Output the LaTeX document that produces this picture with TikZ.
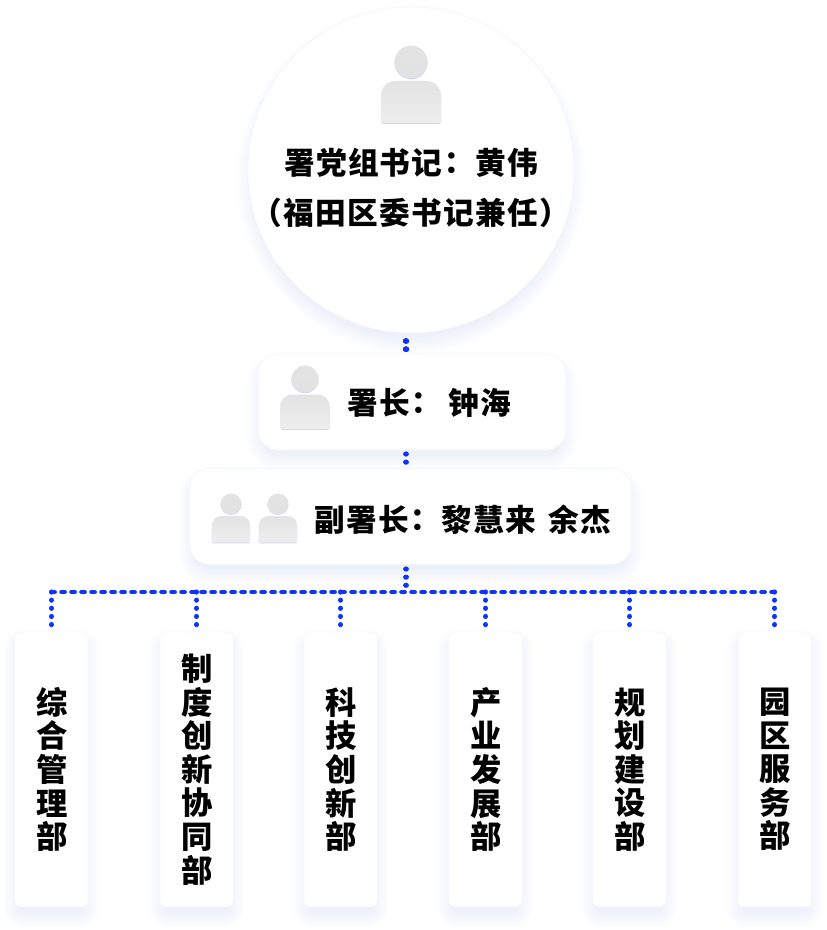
\documentclass[tikz,border=0pt]{standalone}
\usepackage{fontspec}
\usepackage{xcolor}
\usetikzlibrary{backgrounds}
\newfontfamily\cjk[LetterSpace=4.3]{Noto Sans CJK SC}
\newfontfamily\cjktc[LetterSpace=4.3]{Noto Sans CJK TC}
\definecolor{linkblue}{HTML}{0F34F8}
\definecolor{shadowblue}{HTML}{B4C0EA}
\definecolor{edgeblue}{HTML}{F3F5FC}
\definecolor{icontop}{HTML}{E3E3E3}
\definecolor{iconbottom}{HTML}{EEEEEE}
\definecolor{iconedge}{HTML}{CDD4EA}
\newcommand{\cnt}{{\kern-4.5pt\cjktc ：\kern6pt}}
\newcommand{\softshadow}[2]{
  \foreach \w in {-7,-5,...,11}
    \fill[shadowblue,opacity=.028,rounded corners=#2*.75pt+\w*.75pt]
      ([shift={(-\w,\w+9)}]#1.south west) rectangle ([shift={(\w,-\w+9)}]#1.north east);
}

\begin{document}
\begin{tikzpicture}[x=.75pt,y=-.75pt,
   card/.style={draw=edgeblue,line width=.4pt,fill=white,inner sep=0pt,outer sep=0pt},
   wide/.style={card,rounded corners=15pt,minimum height=72pt},
   dept/.style={card,rounded corners=4.5pt,minimum width=55pt,minimum height=206pt,align=center,
     font=\cjk\bfseries\fontsize{23.5}{25.2}\selectfont},
   label/.style={font=\cjk\bfseries\fontsize{23}{37.5}\selectfont,inner sep=0pt},
   vlink/.style={linkblue,line width=3.9pt,line cap=round,dash pattern=on .01pt off 6.1pt},
   hlink/.style={linkblue,line width=3.4pt,line cap=round,dash pattern=on 2.4pt off 5.1pt},
   person/.pic={
     \fill[iconedge] (-30,34) -- (-30,59) .. controls (-30,61) and (-29,62) .. (-27,62) -- (27,62) .. controls (29,62) and (30,61) .. (30,59) -- (30,34) -- cycle;
     \fill[iconedge] (0,.8) circle (16.5);
     \shade[top color=icontop,bottom color=iconbottom] (-30,34) .. controls (-30,25) and (-24,19) .. (-15,19) -- (15,19) .. controls (24,19) and (30,25) .. (30,34) -- (30,58) .. controls (30,60) and (29,61) .. (27,61) -- (-27,61) .. controls (-29,61) and (-30,60) .. (-30,58) -- cycle;
     \shade[top color=icontop,bottom color=iconbottom!95!black] (0,0) circle (16.5);
   }]
   \useasboundingbox (0,0) rectangle (826,930);

   \node[card,circle,minimum size=244.5pt] (chief) at (411,170) {};
   \node[wide,minimum width=231pt] (head) at (412,402) {};
   \node[wide,minimum width=331pt] (deputy) at (410.5,516.5) {};

   \foreach \i/\x/\name in {
     1/51.5/{\hspace{1pt}综\\\hspace{1pt}合\\\hspace{1pt}管\\\hspace{1pt}理\\\hspace{1pt}部},
     2/196.5/{\hspace{1pt}制\\\hspace{1pt}度\\\hspace{1pt}创\\\hspace{1pt}新\\\hspace{1pt}协\\\hspace{1pt}同\\\hspace{1pt}部},
     3/340.5/{\hspace{1pt}科\\\hspace{1pt}技\\\hspace{1pt}创\\\hspace{1pt}新\\\hspace{1pt}部},
     4/485.5/{\hspace{1pt}产\\\hspace{1pt}业\\\hspace{1pt}发\\\hspace{1pt}展\\\hspace{1pt}部},
     5/629.5/{\hspace{1pt}规\\\hspace{1pt}划\\\hspace{1pt}建\\\hspace{1pt}设\\\hspace{1pt}部},
     6/774.5/{\hspace{1pt}园\\\hspace{1pt}区\\\hspace{1pt}服\\\hspace{1pt}务\\\hspace{1pt}部}}
     \node[dept] (dept\i) at (\x,769.5) {\name};

   \coordinate (bus) at (406,592);
   \coordinate (chiefdrop) at (406,333);
   \coordinate (headtop) at (406,354);
   \coordinate (headdrop) at (406,450);
   \coordinate (deputytop) at (406,468);
   \coordinate (deputydrop) at (406,565);

   \begin{scope}[on background layer]
     \foreach \w in {-7,-5,...,11}
       \fill[shadowblue,opacity=.028] ([yshift=-6.75pt]chief.center) circle (163+\w);
     \softshadow{head}{20}
     \softshadow{deputy}{20}
     \foreach \i in {1,...,6}
       \softshadow{dept\i}{6}
     \draw[vlink] ([yshift=-6pt]chiefdrop) -- (headtop);
     \draw[vlink] ([yshift=-3pt]headdrop) -- (deputytop);
     \draw[vlink] ([yshift=-3pt]deputydrop) -- (bus);
     \draw[hlink] (dept1.north |- bus) -- (dept6.north |- bus);
     \foreach \i in {1,...,6}
       \draw[vlink] (dept\i.north |- bus) -- (dept\i.north);
   \end{scope}

   \pic at (411,62) {person};
   \pic[scale=.82] at (305,379) {person};
   \pic[scale=.635] at (231,504) {person};
   \pic[scale=.635] at (278,504) {person};

   \node[label,align=center] (chieftext) at (411,188) {署党组书记\cnt 黄伟\\（福田区委书记兼任）};
   \node[label,anchor=west] (headtext) at (347,402.5) {署长\cnt\hspace{4.5pt}钟海};
   \node[label,anchor=west] (deputytext) at (314,520) {副署长\cnt 黎慧来\hspace{9.5pt}余杰};
\end{tikzpicture}
\end{document}
